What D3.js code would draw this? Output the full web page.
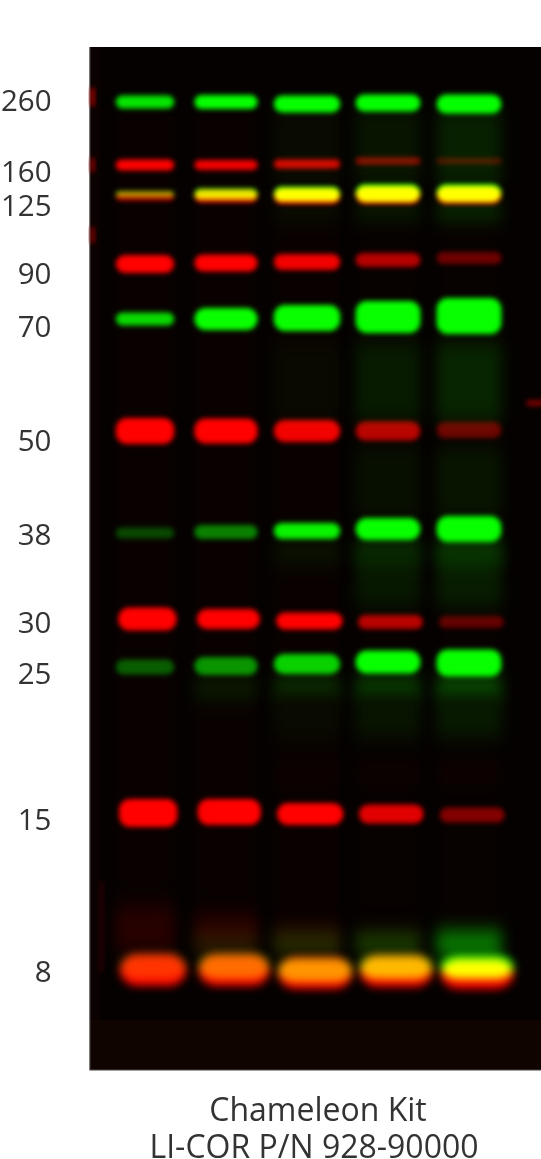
<!DOCTYPE html>
<html>
<head>
<meta charset="utf-8">
<script src="https://cdn.jsdelivr.net/npm/d3@7"></script>
<style>
html, body { margin: 0; padding: 0; background: #fff; }
svg { display: block; isolation: isolate; }
text { font-family: "Open Sans", sans-serif; fill: #333; }
.channel { mix-blend-mode: screen; }
</style>
</head>
<body>
<div id="gel"></div>
<script>
// values, migration is distance from top of the gel
const lanes = [1, 2, 3, 4, 5];
const laneSpan = [0.72, 0.78, 0.82, 0.8, 0.8];

const ladderLabels = ["260", "160", "125", "90", "70", "50", "38", "30", "25", "15", "8"];
const ladderLabelPos = [54, 125, 159, 227, 280, 394, 488, 576, 627, 773, 925];

const captionLines = ["Chameleon Kit", "LI-COR P/N 928-90000"];

// red channel, one row per band, one column per lane
const redDrift = [0, 0, 0, 0, 0.03, 0.04, 0.1];
const redMigration = [
	[118, 118, 117, 114, 114],
	[149, 149, 149, 148, 148],
	[217, 216, 215, 213, 211],
	[384, 384, 384, 384, 383],
	[572, 572, 574, 575, 575],
	[766, 765, 767, 767, 768],
	[923, 923, 926, 924, 927]
];
const redThickness = [
	[11, 10, 9, 7, 5],
	[9, 13, 16, 18, 18],
	[18, 17, 16, 14, 12],
	[26, 25, 22, 19, 16],
	[23, 20, 17, 14, 12],
	[28, 26, 22, 19, 15],
	[32, 32, 32, 32, 30]
];
const redLevel = [
	[1, 0.95, 0.85, 0.55, 0.38],
	[0.75, 0.95, 1, 1, 1],
	[1, 1, 0.95, 0.7, 0.42],
	[1, 1, 0.95, 0.72, 0.42],
	[1, 1, 1, 0.72, 0.38],
	[1, 1, 1, 0.88, 0.5],
	[1, 1, 1, 1, 1]
];

// green channel
const greenDrift = [0, 0, 0, 0, 0, 0.1];
const greenMigration = [
	[55, 55, 57, 56, 57],
	[147, 147, 147, 146, 146],
	[272, 272, 271, 270, 269],
	[486, 485, 484, 482, 482],
	[620, 619, 617, 615, 616],
	[919, 919, 923, 920, 920]
];
const greenThickness = [
	[13, 14, 17, 17, 19],
	[6, 11, 15, 18, 18],
	[13, 22, 26, 32, 36],
	[11, 14, 16, 22, 26],
	[15, 18, 20, 23, 27],
	[26, 26, 24, 24, 24]
];
const greenLevel = [
	[0.9, 1, 1, 1, 1],
	[0.6, 0.9, 1, 1, 1],
	[0.85, 1, 1, 1, 1],
	[0.28, 0.5, 0.95, 1, 1],
	[0.36, 0.58, 0.82, 1, 1],
	[0.2, 0.42, 0.58, 0.72, 1]
];

// faint smears: lane, from, to, level
const greenHaze = [
	[3, 62, 140, 0.04], [4, 62, 140, 0.08], [5, 62, 140, 0.12],
	[3, 158, 170, 0.08], [4, 158, 170, 0.16], [5, 158, 170, 0.26],
	[3, 295, 375, 0.03], [4, 295, 375, 0.1], [5, 295, 375, 0.14],
	[4, 495, 560, 0.09], [5, 495, 560, 0.11],
	[3, 495, 515, 0.08], [4, 495, 515, 0.18], [5, 495, 515, 0.24],
	[2, 632, 650, 0.12], [3, 632, 650, 0.24], [4, 632, 650, 0.32], [5, 632, 650, 0.4],
	[3, 650, 690, 0.04], [4, 650, 690, 0.08], [5, 650, 690, 0.1],
	[4, 400, 470, 0.06], [5, 400, 470, 0.08],
	[2, 890, 905, 0.14], [3, 888, 905, 0.22], [4, 888, 905, 0.3], [5, 885, 908, 0.55]
];
const redHaze = [
	[1, 60, 920, 0.02], [2, 60, 920, 0.02], [3, 60, 920, 0.018], [4, 60, 920, 0.012], [5, 60, 920, 0.01],
	[1, 860, 905, 0.14], [2, 870, 905, 0.18], [3, 880, 905, 0.16], [4, 885, 905, 0.1],
	[3, 722, 732, 0.05], [4, 722, 732, 0.06], [5, 722, 730, 0.08]
];

// stray red marks on the gel edges
const smudgeLane = [0.345, 0.345, 0.345, 5.73, 0.46];
const smudgeMigration = [50, 118, 188, 356, 880];
const smudgeLength = [18, 14, 16, 6, 90];
const smudgeLevel = [0.7, 0.6, 0.55, 0.45, 0.14];

const svg = d3.select("#gel")
	.append("svg")
	.attr("width", 541)
	.attr("height", 1159);

const defs = svg.append("defs");
function blurFilter(id, sd) {
	defs.append("filter")
		.attr("id", id)
		.attr("x", "-50%").attr("y", "-400%")
		.attr("width", "200%").attr("height", "900%")
		.attr("color-interpolation-filters", "sRGB")
		.append("feGaussianBlur")
		.attr("stdDeviation", sd);
}
blurFilter("tight", 2.4);
blurFilter("soft", 4);
blurFilter("haze", "7 10");

const x = d3.scaleLinear().domain([1, 5]).range([145, 469]);
const span = d3.scaleLinear().domain([0, 1]).range([0, 81]);
const y = d3.scaleLinear().domain([0, 1023]).range([47, 1070]);
const thick = d3.scaleLinear().domain([0, 1023]).range([0, 1023]);
const redColor = d3.scaleLinear().domain([0, 1]).range(["#000000", "#ff0000"]);
const greenColor = d3.scaleLinear().domain([0, 1]).range(["#000000", "#00ff00"]);

// gel background
const gelLeft = x(0.32);
svg.append("rect")
	.attr("x", gelLeft).attr("y", y(0))
	.attr("width", 541 - gelLeft).attr("height", y(1023) - y(0))
	.attr("fill", "#0f0400");
svg.append("rect")
	.attr("x", gelLeft + 10).attr("y", y(0))
	.attr("width", 541 - gelLeft).attr("height", y(973) - y(0))
	.attr("fill", "#040100");
svg.append("rect")
	.attr("x", gelLeft).attr("y", y(0))
	.attr("width", 11).attr("height", y(973) - y(0))
	.attr("fill", "#0a0100");
svg.append("path")
	.attr("d", "M" + gelLeft + "," + y(0) + "V" + y(1023) + "H541")
	.attr("fill", "none")
	.attr("stroke", "#4a4643")
	.attr("stroke-width", 1.2);

function drawHaze(layer, rows, color) {
	layer.append("g").selectAll("rect")
		.data(rows)
		.enter()
		.append("rect")
		.attr("x", d => x(d[0]) - span(laneSpan[d[0] - 1]) / 2)
		.attr("y", d => y(d[1]))
		.attr("width", d => span(laneSpan[d[0] - 1]))
		.attr("height", d => thick(d[2] - d[1]))
		.attr("fill", d => color(d[3]))
		.attr("filter", "url(#haze)");
}

function drawBands(layer, migration, thickness, level, drift, color) {
	migration.forEach(function (row, r) {
		const isBottom = r === migration.length - 1;
		const widen = isBottom ? 0.1 : 0;
		layer.append("g").selectAll("rect")
			.data(lanes)
			.enter()
			.append("rect")
			.attr("x", l => x(l + drift[r]) - span(laneSpan[l - 1] + widen) / 2)
			.attr("y", (l, i) => y(row[i]) - thick(thickness[r][i]) / 2)
			.attr("width", l => span(laneSpan[l - 1] + widen))
			.attr("height", (l, i) => thick(thickness[r][i]))
			.attr("rx", (l, i) => isBottom ? 18 : Math.min(thick(thickness[r][i]) / 2, 11))
			.attr("fill", (l, i) => color(level[r][i]))
			.attr("filter", isBottom ? "url(#soft)" : "url(#tight)");
	});
}

const redLayer = svg.append("g").attr("class", "channel");
drawHaze(redLayer, redHaze, redColor);
drawBands(redLayer, redMigration, redThickness, redLevel, redDrift, redColor);
redLayer.append("g").selectAll("rect")
	.data(smudgeLane)
	.enter()
	.append("rect")
	.attr("x", d => x(d) - 1.5)
	.attr("y", (d, i) => y(smudgeMigration[i]) - thick(smudgeLength[i]) / 2)
	.attr("width", (d, i) => d > 5 ? 20 : 4)
	.attr("height", (d, i) => thick(smudgeLength[i]))
	.attr("fill", (d, i) => redColor(smudgeLevel[i]))
	.attr("filter", "url(#tight)");

const greenLayer = svg.append("g").attr("class", "channel");
drawHaze(greenLayer, greenHaze, greenColor);
drawBands(greenLayer, greenMigration, greenThickness, greenLevel, greenDrift, greenColor);

// size labels
const labelAxis = d3.axisLeft(y)
	.tickValues(ladderLabelPos)
	.tickFormat((d, i) => ladderLabels[i])
	.tickSize(0)
	.tickPadding(0);
const axisG = svg.append("g")
	.attr("transform", "translate(51.5,0)")
	.call(labelAxis);
axisG.select(".domain").remove();
axisG.selectAll("text")
	.attr("font-family", "'Open Sans', sans-serif")
	.style("font-size", "29.5px")
	.style("fill", "#333");

svg.append("g").selectAll("text")
	.data(captionLines)
	.enter()
	.append("text")
	.attr("x", (d, i) => i === 0 ? 318 : 314)
	.attr("y", (d, i) => 1121 + i * 37)
	.attr("text-anchor", "middle")
	.style("font-size", "32px")
	.text(d => d);
</script>
</body>
</html>
